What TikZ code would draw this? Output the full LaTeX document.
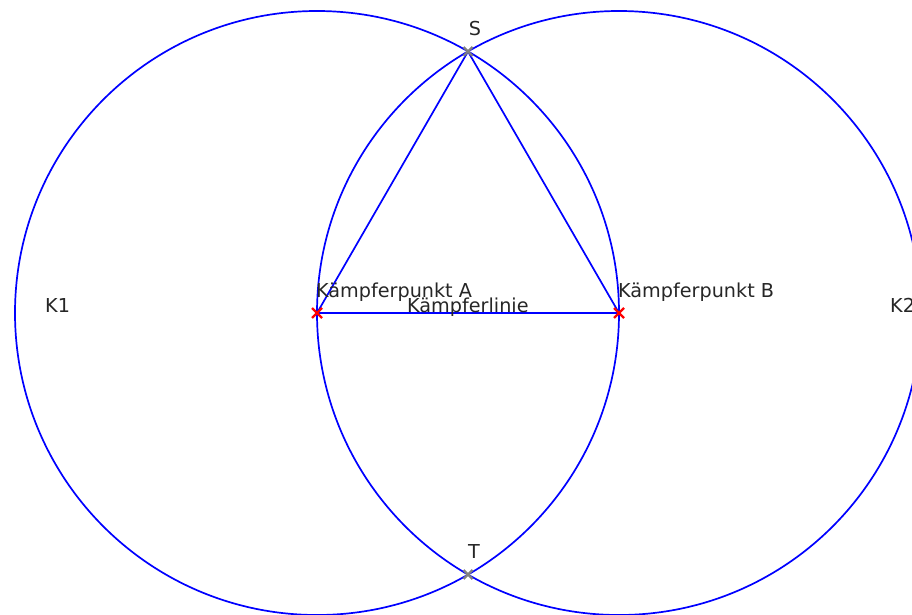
\documentclass[tikz,border=0pt]{standalone}
\usepackage{fontspec}
\setmainfont{DejaVu Sans}
\usetikzlibrary{calc}
\begin{document}
\begin{tikzpicture}[x=1pt,y=-1pt,
  geo/.style={draw=blue,line width=1.7pt},
  lbl/.style={inner sep=0pt,text=black!85,font=\fontsize{19.2}{23}\selectfont},
  redx/.style={draw=red,line width=2.4pt},
  grayx/.style={draw=gray,line width=2.4pt}]
\useasboundingbox (0,0) rectangle (912,615);
\clip (0,0) rectangle (912,615);
\coordinate (A) at (317,313);
\coordinate (B) at (619,313);
\coordinate (S) at (468,51.5);
\coordinate (T) at (468,574.5);
% circles
\draw[geo] (A) circle[radius=302pt];
\draw[geo] (B) circle[radius=302pt];
% triangle
\draw[geo] (A) -- (S) -- (B);
\draw[geo] (A) -- (B);
% markers
\draw[redx] ($(A)+(-5,-5)$) -- ($(A)+(5,5)$) ($(A)+(-5,5)$) -- ($(A)+(5,-5)$);
\draw[redx] ($(B)+(-5,-5)$) -- ($(B)+(5,5)$) ($(B)+(-5,5)$) -- ($(B)+(5,-5)$);
\draw[grayx] ($(S)+(-4.5,-4.5)$) -- ($(S)+(4.5,4.5)$) ($(S)+(-4.5,4.5)$) -- ($(S)+(4.5,-4.5)$);
\draw[grayx] ($(T)+(-4.5,-4.5)$) -- ($(T)+(4.5,4.5)$) ($(T)+(-4.5,4.5)$) -- ($(T)+(4.5,-4.5)$);
% labels
\node[lbl,anchor=base west] (la) at (316,297) {Kämpferpunkt A};
\node[lbl,anchor=base west] (lb) at (618,297) {Kämpferpunkt B};
\node[lbl,anchor=base west] (ll) at (407,312) {Kämpferlinie};
\node[lbl,anchor=base west] (k1) at (45,312) {K1};
\node[lbl,anchor=base west] (k2) at (890,312) {K2};
\node[lbl,anchor=base] (ls) at (475,36) {S};
\node[lbl,anchor=base] (lt) at (474,558) {T};
\end{tikzpicture}
\end{document}
